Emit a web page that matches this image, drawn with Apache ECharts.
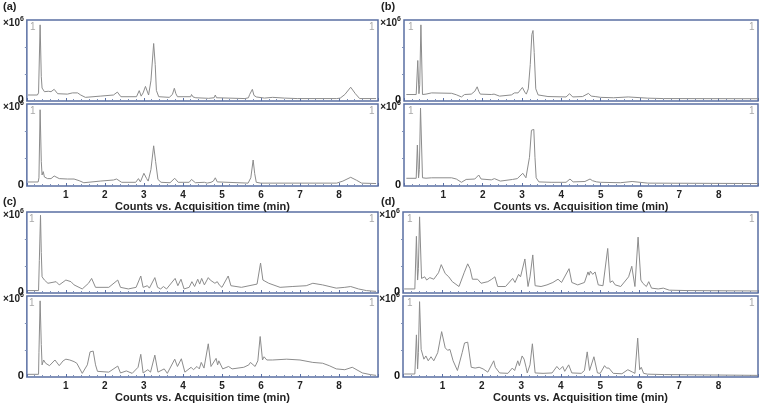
<!DOCTYPE html>
<html>
<head>
<meta charset="utf-8">
<script src="https://cdn.jsdelivr.net/npm/echarts@6/dist/echarts.min.js"></script>
<style>
  html, body { margin: 0; padding: 0; background: #fff; }
  #chart { width: 762px; height: 405px; }
</style>
</head>
<body>
<div id="chart"></div>
<script>
// time (min), counts (x10^6)
const traceA1 = [[0.03,0.074],[0.27,0.074],[0.30,0.10],[0.34,0.94],[0.37,0.30],[0.39,0.16],[0.42,0.17],[0.45,0.115],[0.55,0.12],[0.62,0.115],[0.70,0.144],[0.79,0.09],[1.04,0.085],[1.17,0.10],[1.30,0.10],[1.38,0.074],[1.50,0.045],[1.88,0.06],[2.22,0.074],[2.32,0.11],[2.41,0.053],[2.81,0.053],[2.88,0.128],[2.93,0.06],[2.98,0.10],[3.04,0.18],[3.12,0.074],[3.18,0.25],[3.25,0.71],[3.29,0.45],[3.32,0.13],[3.38,0.053],[3.65,0.045],[3.73,0.08],[3.78,0.157],[3.82,0.09],[3.86,0.053],[4.20,0.053],[4.22,0.08],[4.26,0.05],[4.33,0.04],[4.66,0.033],[4.80,0.04],[4.83,0.074],[4.86,0.04],[5.59,0.03],[5.68,0.04],[5.71,0.08],[5.74,0.06],[5.78,0.144],[5.82,0.07],[5.88,0.05],[6.09,0.036],[6.3,0.045],[6.6,0.036],[6.93,0.03],[7.94,0.03],[8.03,0.035],[8.15,0.08],[8.30,0.17],[8.42,0.09],[8.53,0.03],[8.95,0.03]];
const traceA2 = [[0.03,0.049],[0.29,0.049],[0.31,0.1],[0.34,0.93],[0.37,0.3],[0.39,0.134],[0.42,0.175],[0.45,0.11],[0.53,0.09],[0.62,0.09],[0.70,0.122],[0.83,0.09],[1.04,0.085],[1.21,0.085],[1.34,0.065],[1.46,0.04],[1.88,0.06],[2.22,0.073],[2.30,0.085],[2.43,0.045],[2.79,0.045],[2.86,0.09],[2.91,0.05],[3.00,0.155],[3.07,0.09],[3.11,0.06],[3.18,0.2],[3.25,0.49],[3.30,0.3],[3.36,0.08],[3.44,0.045],[3.67,0.04],[3.79,0.094],[3.88,0.045],[4.16,0.045],[4.22,0.08],[4.32,0.04],[4.55,0.045],[4.62,0.035],[4.72,0.045],[4.78,0.06],[4.83,0.10],[4.88,0.05],[4.92,0.035],[5.67,0.035],[5.74,0.1],[5.80,0.317],[5.84,0.15],[5.88,0.045],[6.0,0.035],[7.94,0.035],[8.1,0.06],[8.30,0.106],[8.45,0.07],[8.58,0.035],[8.95,0.03]];
const traceB1 = [[0.06,0.08],[0.31,0.08],[0.35,0.50],[0.38,0.09],[0.40,0.2],[0.43,0.94],[0.47,0.08],[0.56,0.085],[0.70,0.10],[1.21,0.095],[1.33,0.077],[1.46,0.05],[1.54,0.08],[1.71,0.085],[1.80,0.12],[1.86,0.175],[1.90,0.12],[1.94,0.085],[2.22,0.08],[2.29,0.085],[2.43,0.06],[2.73,0.075],[2.81,0.10],[2.85,0.085],[2.90,0.10],[3.01,0.167],[3.07,0.11],[3.11,0.085],[3.16,0.15],[3.21,0.45],[3.25,0.82],[3.28,0.87],[3.31,0.6],[3.35,0.15],[3.41,0.075],[3.66,0.055],[4.12,0.05],[4.21,0.09],[4.29,0.05],[4.54,0.055],[4.69,0.094],[4.76,0.06],[4.81,0.075],[4.86,0.055],[5.0,0.045],[5.33,0.04],[5.70,0.05],[6.2,0.035],[6.6,0.03],[9.0,0.028]];
const traceB2 = [[0.06,0.094],[0.31,0.094],[0.34,0.50],[0.37,0.10],[0.39,0.2],[0.42,0.95],[0.47,0.10],[0.56,0.095],[0.70,0.10],[1.21,0.10],[1.33,0.085],[1.46,0.045],[1.58,0.08],[1.80,0.085],[1.90,0.134],[1.96,0.085],[2.22,0.075],[2.30,0.09],[2.45,0.06],[2.76,0.08],[2.88,0.09],[3.02,0.155],[3.10,0.1],[3.14,0.085],[3.19,0.35],[3.24,0.68],[3.30,0.69],[3.33,0.35],[3.36,0.1],[3.43,0.05],[3.74,0.045],[4.12,0.045],[4.22,0.085],[4.30,0.05],[4.60,0.055],[4.73,0.085],[4.79,0.065],[4.83,0.075],[4.90,0.05],[5.0,0.045],[5.5,0.04],[5.8,0.055],[6.2,0.035],[9.0,0.03]];
const traceC1 = [[0.03,0.03],[0.30,0.03],[0.32,0.4],[0.35,0.96],[0.37,0.5],[0.39,0.20],[0.45,0.16],[0.54,0.12],[0.75,0.14],[0.83,0.10],[1.0,0.16],[1.13,0.14],[1.21,0.10],[1.42,0.05],[1.58,0.12],[1.66,0.18],[1.76,0.07],[2.1,0.07],[2.33,0.16],[2.40,0.07],[2.6,0.05],[2.8,0.07],[2.92,0.21],[2.98,0.07],[3.09,0.09],[3.14,0.06],[3.28,0.19],[3.35,0.07],[3.43,0.05],[3.50,0.08],[3.58,0.05],[3.80,0.18],[3.87,0.09],[3.95,0.17],[4.03,0.05],[4.16,0.07],[4.23,0.14],[4.30,0.08],[4.38,0.17],[4.43,0.11],[4.48,0.18],[4.55,0.10],[4.65,0.19],[4.70,0.16],[4.75,0.18],[4.82,0.12],[4.88,0.14],[4.93,0.10],[5.0,0.07],[5.16,0.21],[5.23,0.09],[5.5,0.07],[5.9,0.11],[5.99,0.37],[6.05,0.16],[6.1,0.17],[6.2,0.12],[6.49,0.07],[6.8,0.08],[7.16,0.09],[7.33,0.12],[7.58,0.10],[7.60,0.12],[7.62,0.10],[7.93,0.06],[8.15,0.07],[8.30,0.08],[8.5,0.05],[8.7,0.03],[8.95,0.02]];
const traceC2 = [[0.03,0.033],[0.30,0.033],[0.31,0.3],[0.34,0.94],[0.37,0.4],[0.39,0.15],[0.43,0.21],[0.48,0.17],[0.58,0.14],[0.72,0.21],[0.83,0.14],[0.93,0.2],[1.0,0.22],[1.10,0.21],[1.21,0.19],[1.28,0.17],[1.42,0.045],[1.55,0.15],[1.62,0.31],[1.70,0.32],[1.76,0.15],[1.81,0.07],[2.1,0.06],[2.33,0.135],[2.40,0.05],[2.55,0.075],[2.70,0.045],[2.85,0.12],[2.92,0.28],[2.98,0.05],[3.1,0.09],[3.17,0.06],[3.28,0.27],[3.36,0.06],[3.52,0.10],[3.6,0.045],[3.79,0.22],[3.86,0.13],[3.96,0.225],[4.05,0.06],[4.21,0.12],[4.27,0.09],[4.36,0.13],[4.42,0.1],[4.47,0.18],[4.54,0.11],[4.65,0.41],[4.72,0.13],[4.85,0.23],[4.89,0.15],[4.92,0.2],[5.02,0.1],[5.17,0.13],[5.26,0.1],[5.56,0.12],[5.69,0.15],[5.73,0.18],[5.85,0.13],[5.92,0.2],[5.98,0.50],[6.04,0.21],[6.08,0.25],[6.15,0.21],[6.3,0.21],[6.66,0.22],[7.0,0.21],[7.33,0.18],[7.58,0.17],[7.60,0.19],[7.63,0.16],[7.75,0.14],[7.93,0.10],[8.15,0.09],[8.34,0.12],[8.6,0.05],[8.8,0.03],[8.95,0.02]];
const traceD1 = [[0.03,0.05],[0.30,0.05],[0.34,0.70],[0.37,0.16],[0.39,0.3],[0.42,0.94],[0.47,0.18],[0.50,0.16],[0.55,0.2],[0.60,0.16],[0.68,0.19],[0.78,0.17],[0.90,0.25],[0.97,0.35],[1.07,0.24],[1.16,0.2],[1.25,0.14],[1.42,0.08],[1.55,0.25],[1.64,0.36],[1.70,0.3],[1.76,0.17],[1.89,0.17],[1.98,0.12],[2.15,0.14],[2.25,0.17],[2.33,0.2],[2.40,0.08],[2.6,0.08],[2.78,0.18],[2.84,0.13],[2.93,0.23],[2.98,0.2],[3.09,0.42],[3.17,0.08],[3.22,0.2],[3.29,0.47],[3.35,0.09],[3.5,0.08],[3.65,0.1],[3.8,0.13],[3.93,0.17],[4.02,0.13],[4.21,0.30],[4.28,0.13],[4.43,0.10],[4.60,0.13],[4.69,0.26],[4.72,0.22],[4.75,0.27],[4.81,0.23],[4.87,0.26],[4.95,0.10],[5.07,0.09],[5.19,0.55],[5.25,0.13],[5.31,0.15],[5.38,0.1],[5.52,0.08],[5.72,0.2],[5.80,0.33],[5.88,0.08],[5.96,0.69],[6.03,0.16],[6.08,0.12],[6.12,0.14],[6.17,0.08],[6.23,0.14],[6.30,0.06],[6.47,0.05],[6.6,0.06],[6.75,0.035],[7.2,0.03],[9.0,0.025]];
const traceD2 = [[0.03,0.037],[0.30,0.037],[0.34,0.52],[0.37,0.1],[0.39,0.3],[0.42,0.93],[0.46,0.34],[0.50,0.36],[0.53,0.22],[0.58,0.26],[0.64,0.2],[0.71,0.25],[0.78,0.2],[0.88,0.3],[0.98,0.56],[1.07,0.36],[1.13,0.33],[1.19,0.34],[1.27,0.2],[1.38,0.08],[1.50,0.3],[1.56,0.42],[1.64,0.43],[1.73,0.12],[1.83,0.11],[1.93,0.12],[2.03,0.1],[2.15,0.06],[2.30,0.2],[2.34,0.12],[2.38,0.12],[2.45,0.05],[2.66,0.045],[2.77,0.11],[2.83,0.08],[2.91,0.2],[2.95,0.14],[3.02,0.26],[3.07,0.22],[3.12,0.12],[3.15,0.05],[3.22,0.15],[3.28,0.41],[3.35,0.05],[3.55,0.045],[3.78,0.05],[3.9,0.13],[3.97,0.09],[4.05,0.13],[4.1,0.07],[4.2,0.15],[4.28,0.05],[4.52,0.045],[4.60,0.08],[4.67,0.31],[4.73,0.08],[4.84,0.25],[4.93,0.05],[5.0,0.045],[5.11,0.14],[5.16,0.11],[5.22,0.11],[5.26,0.10],[5.33,0.045],[5.55,0.04],[5.7,0.09],[5.75,0.1],[5.82,0.06],[5.88,0.045],[5.95,0.48],[6.0,0.09],[6.04,0.12],[6.1,0.045],[6.2,0.035],[6.63,0.03],[9.0,0.02]];

const panelLabels = ['(a)', '(b)', '(c)', '(d)'];
const timeTicks = [1, 2, 3, 4, 5, 6, 7, 8];
const axisTitle = 'Counts vs. Acquisition time (min)';

const traces = [traceA1, traceA2, traceB1, traceB2, traceC1, traceC2, traceD1, traceD2];
// grid boxes [left, top, width, height]
const boxes = [
  [26, 20, 352, 81], [26, 104, 352, 82],
  [404, 20, 354, 81], [404, 104, 354, 82],
  [25, 212, 353, 81], [25, 296, 353, 81],
  [403, 212, 355, 81], [403, 296, 355, 81]
];
const labelPos = [[3, 1], [381, 1], [3, 196], [381, 196]];

const font = '"Liberation Sans", Arial, sans-serif';
const grids = [], xAxes = [], yAxes = [], series = [], graphics = [];

boxes.forEach(function (b, i) {
  const isBottom = i % 2 === 1;
  grids.push({
    left: b[0], top: b[1], width: b[2], height: b[3],
    show: true, borderColor: '#5a6fa3', borderWidth: 1.5, backgroundColor: '#fff'
  });
  xAxes.push({
    type: 'value', gridIndex: i, min: 0, max: 9, interval: 1,
    axisLine: { show: false },
    axisTick: { show: true, inside: true, length: 3, lineStyle: { color: '#5a6fa3' } },
    minorTick: { show: true, splitNumber: 5, length: 2, lineStyle: { color: '#7f90b8' } },
    splitLine: { show: false },
    axisLabel: {
      show: isBottom, margin: 4, color: '#222', fontSize: 10, fontWeight: 'bold', fontFamily: font,
      formatter: function (v) { return timeTicks.indexOf(v) >= 0 ? String(v) : ''; }
    },
    name: isBottom ? axisTitle : '',
    nameLocation: 'middle', nameGap: 15,
    nameTextStyle: { color: '#222', fontSize: 11, fontWeight: 'bold', fontFamily: font }
  });
  yAxes.push({
    type: 'value', gridIndex: i, min: 0, max: 1, interval: 1,
    axisLine: { show: false },
    axisTick: { show: false },
    minorTick: { show: true, splitNumber: 3, length: 2, lineStyle: { color: '#7f90b8' } },
    splitLine: { show: false },
    axisLabel: {
      margin: 3, showMaxLabel: true, showMinLabel: true,
      formatter: function (v) { return v === 0 ? '{z|0}' : '{t|×10}{s|6}'; },
      rich: {
        z: { color: '#111', fontSize: 11, fontWeight: 'bold', fontFamily: font, padding: [0, 0, 3, 0] },
        t: { color: '#222', fontSize: 10, fontWeight: 'bold', fontFamily: font, padding: [6, 0, 0, 0] },
        s: { color: '#222', fontSize: 7, fontWeight: 'bold', fontFamily: font, padding: [0, 0, 2, 0] }
      }
    }
  });
  series.push({
    type: 'line', xAxisIndex: i, yAxisIndex: i, data: traces[i],
    showSymbol: false, smooth: false, silent: true,
    lineStyle: { color: '#8c8c8c', width: 1 }
  });
  graphics.push(
    { type: 'text', left: b[0] + 4, top: b[1] + 2, style: { text: '1', fill: '#a8a8a8', fontSize: 10, fontFamily: font } },
    { type: 'text', left: b[0] + b[2] - 9, top: b[1] + 2, style: { text: '1', fill: '#a8a8a8', fontSize: 10, fontFamily: font } }
  );
});

const titles = panelLabels.map(function (t, k) {
  return {
    text: t, left: labelPos[k][0], top: labelPos[k][1], padding: 0,
    textStyle: { color: '#222', fontSize: 11, fontWeight: 'bold', fontFamily: font }
  };
});

const chart = echarts.init(document.getElementById('chart'), null, { renderer: 'canvas' });
chart.setOption({
  animation: false,
  backgroundColor: '#fff',
  title: titles,
  grid: grids,
  xAxis: xAxes,
  yAxis: yAxes,
  series: series,
  graphic: graphics
});
</script>
</body>
</html>
